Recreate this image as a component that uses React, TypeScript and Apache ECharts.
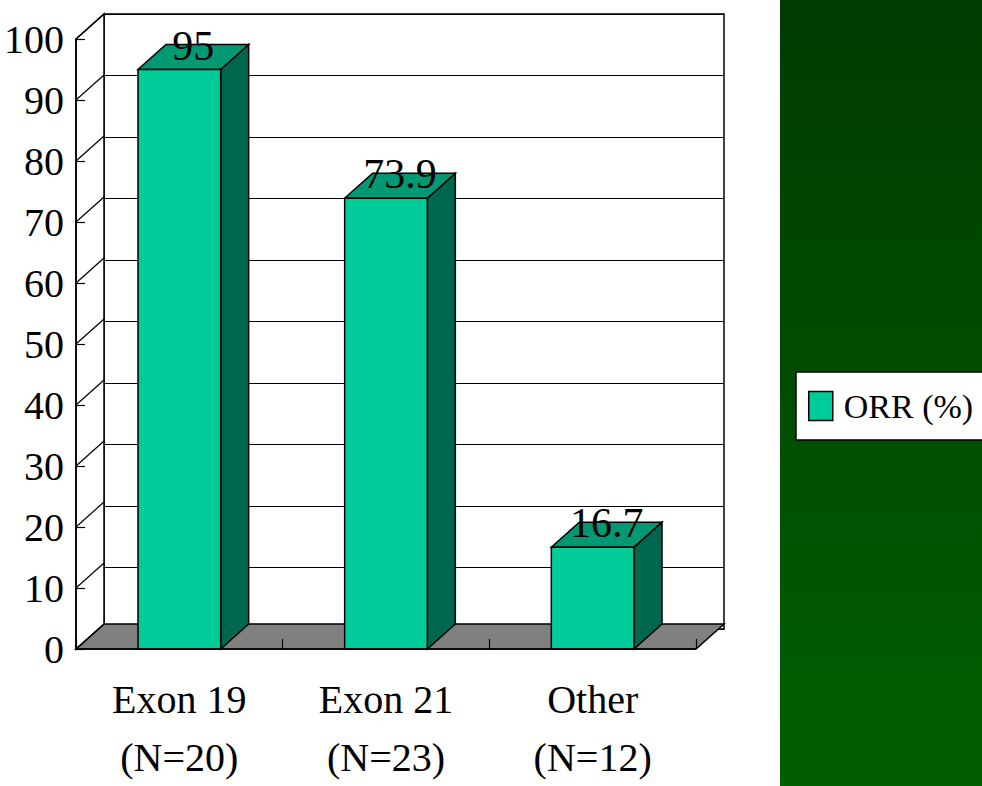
import React, { useEffect, useRef } from "react";
import * as echarts from "echarts";

const CATEGORIES = ["Exon 19\n(N=20)", "Exon 21\n(N=23)", "Other\n(N=12)"];
const ORR_VALUES = [95, 73.9, 16.7];
const SERIES_NAME = "ORR (%)";

const DX = 28; // depth offset x (px)
const DY = 25; // depth offset y (px, upward)
const FONT = "Liberation Serif";
const PLOT_H = 615;

export default function App() {
  const ref = useRef<HTMLDivElement>(null);
  useEffect(() => {
    if (!ref.current) return;
    const chart = echarts.init(ref.current, null, { renderer: "svg" });

    const wallsRender = (params: any, api: any) => {
      const catW = api.size([1, 0])[0];
      const [c0, y0] = api.coord([0, 0]);
      const c2 = api.coord([CATEGORIES.length - 1, 0])[0];
      const x0 = c0 - catW / 2;
      const x1 = c2 + catW / 2;
      const yTop = api.coord([0, 100])[1];
      const children: any[] = [
        {
          type: "polygon",
          shape: { points: [[x0, y0], [x1, y0], [x1 + DX, y0 - DY], [x0 + DX, y0 - DY]] },
          style: { fill: "#808080", stroke: "#000", lineWidth: 1.5 },
        },
        {
          type: "polygon",
          shape: { points: [[x0, y0], [x0 + DX, y0 - DY], [x0 + DX, yTop - DY], [x0, yTop]] },
          style: { fill: "#fff", stroke: "#000", lineWidth: 1.5 },
        },
      ];
      for (let v = 0; v <= 100; v += 10) {
        const y = api.coord([0, v])[1];
        children.push({
          type: "line",
          shape: { x1: x0, y1: y, x2: x0 + DX, y2: y - DY },
          style: { stroke: "#000", lineWidth: 1.2 },
        });
      }
      return { type: "group", children };
    };

    const barsRender = (params: any, api: any) => {
      const idx = api.value(0);
      const v = api.value(1);
      const [cx, yt] = api.coord([idx, v]);
      const yb = api.coord([idx, 0])[1];
      const w = api.size([1, 0])[0] * 0.4;
      const l = cx - w / 2;
      const r = cx + w / 2;
      return {
        type: "group",
        children: [
          {
            type: "polygon",
            shape: { points: [[r, yt], [r + DX, yt - DY], [r + DX, yb - DY], [r, yb]] },
            style: { fill: "#00664D", stroke: "#000", lineWidth: 1.5 },
          },
          {
            type: "polygon",
            shape: { points: [[l, yt], [r, yt], [r + DX, yt - DY], [l + DX, yt - DY]] },
            style: { fill: "#009973", stroke: "#000", lineWidth: 1.5 },
          },
          {
            type: "rect",
            shape: { x: l, y: yt, width: w, height: yb - yt },
            style: { fill: "#00CC99", stroke: "#000", lineWidth: 1.5 },
          },
          {
            type: "text",
            style: {
              text: String(ORR_VALUES[idx]),
              x: cx + DX / 2,
              y: yt - 24,
              align: "center",
              verticalAlign: "middle",
              fontFamily: FONT,
              fontSize: 42,
              fill: "#000",
            },
          },
        ],
      };
    };

    chart.setOption({
      animation: false,
      graphic: [
        {
          type: "rect",
          z: -10,
          shape: { x: 780, y: 0, width: 202, height: 786 },
          style: {
            fill: new echarts.graphic.LinearGradient(0, 0, 0, 1, [
              { offset: 0, color: "#003C00" },
              { offset: 1, color: "#005F00" },
            ]),
          },
        },
      ],
      legend: {
        left: 796,
        top: 372,
        orient: "vertical",
        backgroundColor: "#fff",
        borderColor: "#000",
        borderWidth: 1.5,
        borderRadius: 0,
        padding: [17, 30, 17, 12],
        itemWidth: 24,
        itemHeight: 29,
        textStyle: { fontFamily: FONT, fontSize: 34, color: "#000", padding: [0, 0, 0, 6] },
        data: [
          {
            name: SERIES_NAME,
            icon: "rect",
            itemStyle: { color: "#00CC99", borderColor: "#000", borderWidth: 1.5 },
          },
        ],
      },
      grid: [
        {
          left: 76 + DX,
          top: 39 - DY,
          width: 620,
          height: PLOT_H,
          show: true,
          backgroundColor: "#fff",
          borderColor: "#000",
          borderWidth: 1.5,
        },
        { left: 76, top: 39, width: 620, height: PLOT_H },
      ],
      xAxis: [
        { type: "category", gridIndex: 0, data: CATEGORIES, show: false },
        {
          type: "category",
          gridIndex: 1,
          data: CATEGORIES,
          z: 10,
          axisLine: { show: true, lineStyle: { color: "#000", width: 1.5 } },
          axisTick: { show: true, inside: true, length: 10, alignWithLabel: false, lineStyle: { color: "#000", width: 1.2 } },
          axisLabel: {
            fontFamily: FONT,
            fontSize: 40,
            color: "#000",
            lineHeight: 58,
            margin: 21,
          },
        },
      ],
      yAxis: [
        {
          type: "value",
          gridIndex: 0,
          min: 0,
          max: 100,
          interval: 10,
          axisLine: { show: false },
          axisTick: { show: false },
          axisLabel: { show: false },
          splitLine: { show: true, lineStyle: { color: "#000", width: 1.2 } },
        },
        {
          type: "value",
          gridIndex: 1,
          min: 0,
          max: 100,
          interval: 10,
          z: 10,
          axisLine: { show: true, lineStyle: { color: "#000", width: 1.5 } },
          axisTick: { show: true, inside: true, length: 9, lineStyle: { color: "#000", width: 1.2 } },
          axisLabel: { fontFamily: FONT, fontSize: 40, color: "#000", margin: 12 },
          splitLine: { show: false },
        },
      ],
      series: [
        {
          type: "custom",
          name: "walls",
          xAxisIndex: 1,
          yAxisIndex: 1,
          z: 1,
          silent: true,
          renderItem: wallsRender,
          data: [[0, 0]],
        },
        {
          type: "custom",
          name: SERIES_NAME,
          xAxisIndex: 1,
          yAxisIndex: 1,
          z: 3,
          itemStyle: { color: "#00CC99" },
          renderItem: barsRender,
          data: ORR_VALUES.map((v, i) => [i, v]),
        },
      ],
    });
    return () => chart.dispose();
  }, []);
  return <div ref={ref} style={{ position: "absolute", left: 0, top: 0, width: 982, height: 786 }} />;
}
